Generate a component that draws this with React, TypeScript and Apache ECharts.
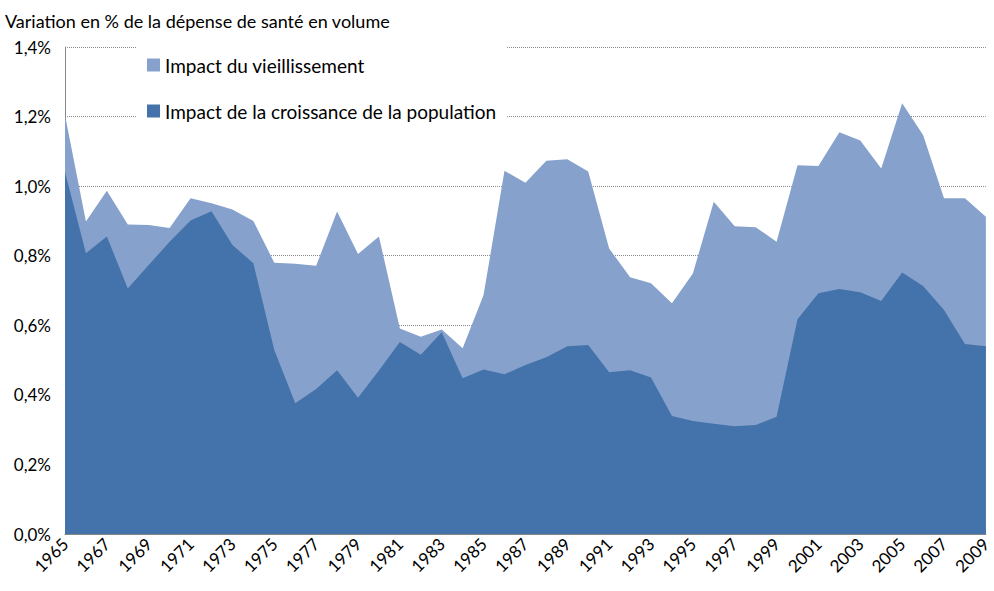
import React, { useEffect, useRef } from 'react';
import * as echarts from 'echarts';

const years: string[] = [];
for (let y = 1965; y <= 2009; y++) years.push(String(y));

// Impact du vieillissement (courbe claire)
const vieillissement = [
  1.204, 0.898, 0.987, 0.890, 0.888, 0.880, 0.965, 0.951, 0.933, 0.900,
  0.780, 0.777, 0.771, 0.927, 0.805, 0.855, 0.591, 0.567, 0.588, 0.534,
  0.687, 1.044, 1.010, 1.073, 1.077, 1.042, 0.821, 0.738, 0.721, 0.663,
  0.749, 0.955, 0.885, 0.882, 0.840, 1.060, 1.058, 1.155, 1.131, 1.051,
  1.238, 1.147, 0.965, 0.965, 0.912,
];

// Impact de la croissance de la population (courbe foncée)
const croissance = [
  1.041, 0.807, 0.855, 0.706, 0.773, 0.840, 0.901, 0.928, 0.831, 0.778,
  0.529, 0.376, 0.417, 0.471, 0.392, 0.470, 0.552, 0.515, 0.580, 0.448,
  0.473, 0.459, 0.486, 0.508, 0.540, 0.543, 0.465, 0.471, 0.450, 0.339,
  0.325, 0.317, 0.310, 0.313, 0.337, 0.617, 0.692, 0.704, 0.695, 0.670,
  0.752, 0.713, 0.644, 0.546, 0.540,
];

const seriesNames = ['Impact du vieillissement', 'Impact de la croissance de la population'];
const titleText = 'Variation en % de la dépense de santé en volume';

const FONT = 'Lato, "Noto Sans", sans-serif';

export default function App() {
  const ref = useRef<HTMLDivElement>(null);
  useEffect(() => {
    const chart = echarts.init(ref.current!, null, { renderer: 'svg' });
    chart.setOption({
      animation: false,
      backgroundColor: '#ffffff',
      title: {
        text: titleText,
        left: 0,
        top: 7,
        textStyle: { fontFamily: FONT, fontSize: 18, fontWeight: 'normal', color: '#000' },
      },
      legend: {
        orient: 'vertical',
        left: 137,
        top: 41,
        padding: [14, 10, 14, 10],
        backgroundColor: '#ffffff',
        itemWidth: 13,
        itemHeight: 13,
        itemGap: 26,
        icon: 'rect',
        textStyle: { fontFamily: FONT, fontSize: 19, color: '#000', lineHeight: 20 },
        data: seriesNames,
      },
      grid: { left: 65, right: 2, top: 47, bottom: 57, containLabel: false },
      xAxis: {
        type: 'category',
        data: years,
        boundaryGap: false,
        axisLine: { lineStyle: { color: '#868686' } },
        axisTick: { show: false },
        axisLabel: {
          rotate: 45,
          interval: 1,
          margin: 7,
          fontFamily: FONT,
          fontSize: 17,
          color: '#000',
        },
        splitLine: { show: false },
      },
      yAxis: {
        type: 'value',
        min: 0,
        max: 1.4,
        interval: 0.2,
        axisLine: { show: true, lineStyle: { color: '#868686' } },
        axisTick: { show: false },
        axisLabel: {
          margin: 14,
          fontFamily: FONT,
          fontSize: 17,
          color: '#000',
          formatter: (v: number) => v.toFixed(1).replace('.', ',') + '%',
        },
        splitLine: { show: true, lineStyle: { type: 'dotted', color: '#8a8a8a', width: 1 } },
      },
      series: [
        {
          name: seriesNames[0],
          type: 'line',
          data: vieillissement,
          symbol: 'none',
          lineStyle: { width: 0 },
          areaStyle: { color: '#86A1CB', opacity: 1 },
          itemStyle: { color: '#86A1CB' },
          z: 2,
        },
        {
          name: seriesNames[1],
          type: 'line',
          data: croissance,
          symbol: 'none',
          lineStyle: { width: 0 },
          areaStyle: { color: '#4373AA', opacity: 1 },
          itemStyle: { color: '#4373AA' },
          z: 3,
        },
      ],
    });
    return () => chart.dispose();
  }, []);
  return (
    <div
      ref={ref}
      style={{ position: 'absolute', left: 0, top: 0, width: 994, height: 591, background: '#fff' }}
    />
  );
}
